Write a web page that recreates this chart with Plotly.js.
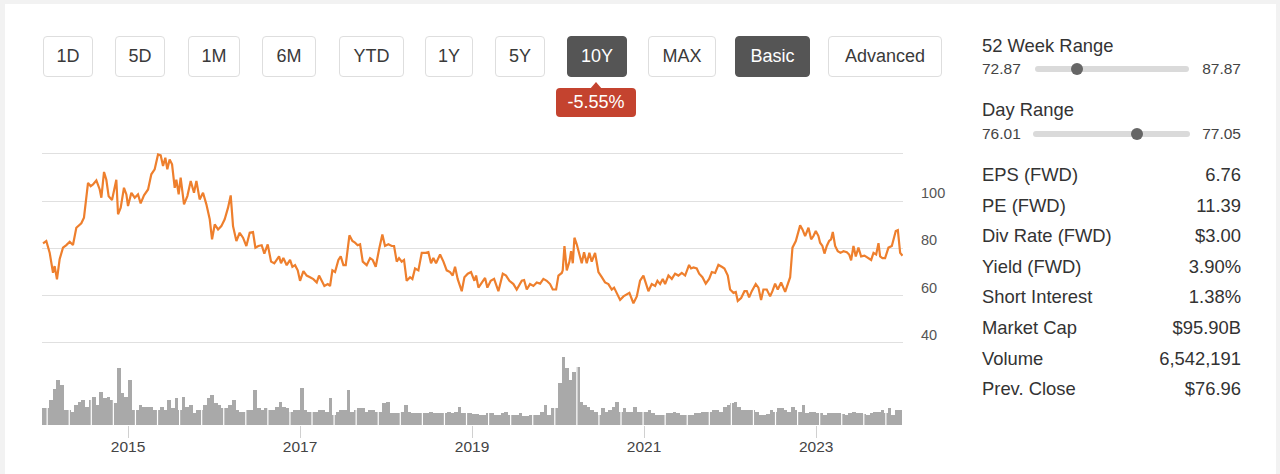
<!DOCTYPE html>
<html>
<head>
<meta charset="utf-8">
<script src="https://cdn.plot.ly/plotly-3.0.1.min.js"></script>
<style>
  html, body { margin:0; padding:0; }
  body { width:1280px; height:474px; background:#f2f2f2; position:relative; overflow:hidden;
         font-family:"Liberation Sans", Arial, sans-serif; color:#333; }
  #card { position:absolute; left:5px; top:4px; width:1271px; height:480px; background:#fff; }
  .btn { position:absolute; top:36px; height:39px; line-height:39px; border:1px solid #dedede; border-radius:4px;
         text-align:center; font-size:18px; color:#3a3a3a; background:#fff; box-sizing:content-box; }
  .btn.dark { background:#555; border-color:#555; color:#fff; }
  #badge { position:absolute; left:556px; top:88px; width:80px; height:29px; line-height:29px; background:#c4432f;
           color:#fff; font-size:18px; text-align:center; border-radius:4px; }
  #badgeTip { position:absolute; left:590px; top:82px; width:0; height:0; border-left:6px solid transparent;
              border-right:6px solid transparent; border-bottom:7px solid #c4432f; }
  .lbl { position:absolute; left:982px; height:24px; line-height:24px; font-size:18.4px; color:#333; white-space:nowrap; }
  .val { position:absolute; right:39px; height:24px; line-height:24px; font-size:18.4px; color:#333; text-align:right; white-space:nowrap; }
  .small { position:absolute; height:20px; line-height:20px; font-size:15.5px; color:#444; white-space:nowrap; }
  .track { position:absolute; height:6px; background:#dadada; border-radius:3px; }
  .knob { position:absolute; width:12px; height:12px; border-radius:6px; background:#666; }
  #chart { position:absolute; left:0; top:130px; width:980px; height:344px; }
</style>
</head>
<body>
<div id="card"></div>
<div id="chart"></div>
<div id="ui"></div>
<script>
// ---------------- DATA ----------------
const rangeButtons = ["1D","5D","1M","6M","YTD","1Y","5Y","10Y","MAX"];
const modeButtons = ["Basic","Advanced"];
const changeText = "-5.55%";

const week52 = { low: "72.87", high: "87.87", pos: 0.27 };
const dayRange = { low: "76.01", high: "77.05", pos: 0.66 };

const statLabels = ["EPS (FWD)","PE (FWD)","Div Rate (FWD)","Yield (FWD)","Short Interest","Market Cap","Volume","Prev. Close"];
const statValues = ["6.76","11.39","$3.00","3.90%","1.38%","$95.90B","6,542,191","$76.96"];

const priceTickVals = [40, 60, 80, 100, 120];
const priceTickText = ["40", "60", "80", "100", ""];
const yearTicks = [2015, 2017, 2019, 2021, 2023];

// Price (decimal year, price)
const tA = [2014.012,2014.050,2014.089,2014.128,2014.147,2014.174,2014.205,2014.244,2014.283,2014.322,2014.360,2014.399,2014.457,2014.488,2014.535,2014.566,2014.593,2014.632,2014.671,2014.690,2014.721,2014.748,2014.775,2014.814,2014.864,2014.884,2014.915,2014.953,2014.981,2015.000,2015.039,2015.078,2015.116,2015.147,2015.186,2015.233,2015.271,2015.310,2015.349,2015.380,2015.407,2015.434,2015.457,2015.484,2015.512,2015.543,2015.562,2015.589,2015.612,2015.651,2015.690,2015.729,2015.767,2015.795,2015.833,2015.872,2015.911,2015.950,2015.977,2016.008,2016.047,2016.085,2016.124,2016.163,2016.194,2016.221,2016.260,2016.298,2016.337,2016.376,2016.415,2016.453,2016.481];
const vA = [82.1,83.1,78.2,69.7,72.5,66.9,75.4,80.3,81.4,82.8,81.4,88.7,90.6,93.0,107.7,106.3,107.0,108.7,104.9,101.4,112.3,109.0,102.0,100.4,109.0,94.4,97.2,105.6,102.8,97.9,103.5,101.4,102.8,99.0,102.4,104.9,111.3,113.4,119.7,119.3,114.8,118.3,113.4,117.6,115.5,105.6,109.0,102.8,109.9,98.6,102.1,108.5,103.5,108.5,100.7,103.5,98.6,92.3,83.8,90.1,88.0,89.4,92.3,97.2,102.4,89.4,83.1,86.6,84.5,81.0,86.6,86.9,80.3];

const tB = [2016.515,2016.554,2016.585,2016.624,2016.663,2016.701,2016.729,2016.756,2016.779,2016.806,2016.845,2016.884,2016.911,2016.942,2016.973,2017.000,2017.039,2017.077,2017.116,2017.155,2017.194,2017.221,2017.252,2017.283,2017.322,2017.349,2017.376,2017.407,2017.446,2017.473,2017.504,2017.531,2017.574,2017.609,2017.639,2017.670,2017.698,2017.729,2017.775,2017.814,2017.845,2017.880,2017.919,2017.957,2017.988,2018.027,2018.066,2018.093,2018.124,2018.151,2018.182,2018.209,2018.240,2018.279,2018.306,2018.337,2018.376,2018.415,2018.461,2018.492,2018.523,2018.550,2018.581,2018.628,2018.667,2018.705,2018.744,2018.775,2018.802,2018.833,2018.880,2018.911,2018.950,2018.988,2019.027];
const vB = [81.0,81.3,77.8,81.7,74.4,73.7,75.1,76.6,73.7,75.9,72.9,75.1,72.2,72.9,70.7,66.3,70.4,68.5,67.8,67.0,65.6,68.5,66.3,64.1,64.9,64.1,70.7,70.0,75.1,76.6,72.9,72.9,85.5,83.1,82.4,81.3,81.7,74.4,72.9,75.9,75.1,72.2,79.6,85.9,81.0,81.7,81.0,81.0,74.4,75.9,74.4,75.1,66.3,67.8,67.0,71.5,70.7,78.1,78.1,78.4,73.7,75.9,73.7,77.4,74.4,70.7,70.0,68.5,72.2,67.0,61.9,67.8,69.3,70.0,66.3];

const tC = [2019.047,2019.074,2019.112,2019.151,2019.178,2019.217,2019.256,2019.306,2019.357,2019.395,2019.434,2019.481,2019.519,2019.578,2019.605,2019.636,2019.674,2019.713,2019.752,2019.791,2019.829,2019.868,2019.907,2019.938,2019.977,2020.004,2020.043,2020.054,2020.074,2020.101,2020.132,2020.151,2020.171,2020.190,2020.217,2020.256,2020.275,2020.302,2020.333,2020.364,2020.391,2020.430,2020.469,2020.508,2020.546,2020.585,2020.624,2020.651,2020.682,2020.721,2020.760,2020.798,2020.829,2020.876,2020.915,2020.953,2020.992,2021.050,2021.089,2021.128,2021.155,2021.186,2021.217,2021.244,2021.283,2021.322,2021.360,2021.399,2021.438,2021.477,2021.523];
const vC = [68.5,63.4,65.6,67.5,63.4,66.3,67.1,61.9,69.3,68.5,66.3,64.9,62.6,66.3,66.6,62.6,64.9,64.1,65.6,65.1,67.1,66.3,64.9,62.6,62.6,68.5,69.6,70.7,81.0,70.7,74.4,78.8,73.7,84.5,81.7,76.6,73.7,78.4,73.7,78.1,74.4,78.1,70.0,67.8,65.6,64.9,62.6,63.4,61.2,58.2,59.7,60.4,61.2,56.8,59.7,66.3,68.5,61.9,64.9,64.1,66.3,64.9,67.1,64.9,68.5,67.1,69.3,68.5,69.6,68.5,73.0];

const tD = [2021.546,2021.574,2021.612,2021.640,2021.678,2021.717,2021.756,2021.787,2021.826,2021.864,2021.903,2021.934,2021.973,2022.000,2022.039,2022.066,2022.089,2022.128,2022.167,2022.194,2022.221,2022.252,2022.298,2022.329,2022.360,2022.387,2022.426,2022.465,2022.492,2022.523,2022.554,2022.593,2022.640,2022.670,2022.698,2022.725,2022.764,2022.814,2022.841,2022.872,2022.911,2022.942,2022.969,2022.996,2023.027,2023.046,2023.073,2023.097,2023.124,2023.151,2023.174,2023.194,2023.221,2023.252,2023.283,2023.318,2023.357,2023.384,2023.407,2023.434,2023.461,2023.492,2023.523,2023.562,2023.601,2023.640,2023.667,2023.698,2023.725,2023.744,2023.771,2023.802,2023.841,2023.880,2023.926,2023.950,2023.977,2024.004];
const vD = [71.5,71.9,71.5,69.3,67.8,65.1,67.1,70.0,69.6,73.0,72.2,71.5,68.5,62.6,61.2,61.6,57.8,59.0,61.9,61.9,59.3,61.9,64.9,63.4,58.2,62.6,62.6,59.7,61.9,65.1,62.6,65.6,61.6,64.9,67.8,80.3,83.1,89.7,88.0,85.2,88.7,83.8,85.2,87.3,85.2,82.4,81.0,77.8,81.0,83.1,83.8,86.9,81.0,78.8,78.1,78.8,78.4,77.4,74.9,81.0,76.6,80.3,76.6,76.9,75.9,75.1,78.1,77.4,82.2,76.6,75.9,75.9,80.3,81.0,87.3,87.7,78.1,76.9];

// Volume (millions), semi-monthly bins per year
const volYears = [2014,2015,2016,2017,2018,2019,2020,2021,2022,2023];
const vol2014 = [8.5,8.5,12.5,18,22.5,20,7.5,7.5,6.5,10,11.5,12.5,9,12.5,14,10,16.5,13.5,14,12.5,11,28.5,16,14];
const vol2015 = [22.5,7.5,7.5,10,9,9,9,7.5,7.5,9,7.5,12.5,8.5,13.5,7.5,14,9,10,6,7.5,7.5,10,13.5,15];
const vol2016 = [11,10,8.5,8.5,10,12.5,7.5,6.5,6.5,7.5,7.5,17.5,8.5,7.5,8.5,7.5,7.5,9,11.5,9,8.5,6.5,7.5,7.5];
const vol2017 = [18.5,7.5,6.5,6.5,6.5,7.5,7.5,6.5,13.5,5,6.5,7.5,7.5,17.5,6.5,7.5,8.5,8.5,6.5,7.5,7.5,6.5,6.5,11];
const vol2018 = [11.5,6,6,6,6.5,10,6.5,6,6,6,6,6,6.5,6,6,6,6,6.5,6,6.5,9,6,6,6];
const vol2019 = [5.5,5.5,5,5,6,6,5,5,6,6.5,5,5,5,6,4.5,4.5,5,5,5,6.5,10,5,8.5,8.5];
const vol2020 = [21,34,28.5,22.5,26.5,29,11.5,10,9,7.5,6.5,5,8.5,6.5,7.5,9,11.5,6.5,8.5,6.5,6.5,9,6.5,6.5];
const vol2021 = [6.5,7.5,6,5,5,5,6,6,6.5,6,5,5,5,5,6,6,6.5,6.5,6.5,7.5,7.5,6.5,9,10];
const vol2022 = [11,11.5,9,7.5,7.5,7.5,7.5,6.5,5,5,5.5,7.5,6.5,8.5,8.5,7.5,6.5,9,7.5,6.5,10,6,6.5,6.5];
const vol2023 = [6,6,5,6,6,6,6,5.5,5,6,6.5,6,6,5.5,5,6,6.5,6.5,7.5,6,8.5,5,7.5,7.5];

// ---------------- UI ----------------
const FONT = '"Liberation Sans", Arial, sans-serif';
const ui = document.getElementById('ui');
function add(html){ ui.insertAdjacentHTML('beforeend', html); }

const btnGeom = [[43,48],[115,48],[188,50],[262,52],[339,63],[425,46],[495,48],[567,58],[648,66]];
rangeButtons.forEach((b,i)=>{
  const [l,w] = btnGeom[i];
  add(`<div class="btn${b==='10Y'?' dark':''}" style="left:${l}px;width:${w}px">${b}</div>`);
});
const modeGeom = [[735,73],[828,112]];
modeButtons.forEach((b,i)=>{
  const [l,w] = modeGeom[i];
  add(`<div class="btn${i===0?' dark':''}" style="left:${l}px;width:${w}px">${b}</div>`);
});
add(`<div id="badgeTip"></div><div id="badge">${changeText}</div>`);

add(`<div class="lbl" style="top:34px">52 Week Range</div>`);
add(`<div class="small" style="left:982px;top:59px">${week52.low}</div>`);
add(`<div class="small" style="right:39px;top:59px">${week52.high}</div>`);
add(`<div class="track" style="left:1035px;top:66px;width:154px"></div>`);
add(`<div class="knob" style="left:${1035+154*week52.pos-6}px;top:63px"></div>`);

add(`<div class="lbl" style="top:98px">Day Range</div>`);
add(`<div class="small" style="left:982px;top:124px">${dayRange.low}</div>`);
add(`<div class="small" style="right:39px;top:124px">${dayRange.high}</div>`);
add(`<div class="track" style="left:1033px;top:131px;width:157px"></div>`);
add(`<div class="knob" style="left:${1033+157*dayRange.pos-6}px;top:128px"></div>`);

statLabels.forEach((s,i)=>{
  const c = 175 + i*30.6;
  add(`<div class="lbl" style="top:${c-12}px">${s}</div>`);
  add(`<div class="val" style="top:${c-12}px">${statValues[i]}</div>`);
});

// ---------------- CHART ----------------
const priceT = [].concat(tA, tB, tC, tD);
const priceV = [].concat(vA, vB, vC, vD);

const volArrays = [vol2014,vol2015,vol2016,vol2017,vol2018,vol2019,vol2020,vol2021,vol2022,vol2023];
const volX = [], volY = [];
volArrays.forEach((arr, yi)=>{
  arr.forEach((v,k)=>{ volX.push(volYears[yi] + (k+0.5)/arr.length); volY.push(v); });
});

const xRange = [2014.0, 2024.01];

// thin white separators seen in the volume strip
const sepFirst = 2014.06, sepStep = 0.2566, sepCount = 39;
const shapes = [];
for (let k=0;k<sepCount;k++){
  const x = sepFirst + k*sepStep;
  shapes.push({type:'line', xref:'x2', yref:'y2', x0:x, x1:x, y0:0, y1:35, line:{color:'#ffffff', width:1.2}, layer:'above'});
}

const traces = [
  { x: priceT, y: priceV, type:'scatter', mode:'lines', xaxis:'x', yaxis:'y',
    line:{color:'#ee7f2d', width:2.2}, hoverinfo:'skip' },
  { x: volX, y: volY, type:'bar', xaxis:'x2', yaxis:'y2', width:1/24,
    marker:{color:'#a9a9a9', line:{width:0}}, hoverinfo:'skip' }
];

const layout = {
  width:980, height:344,
  margin:{l:42, r:77, t:19, b:49},
  paper_bgcolor:'rgba(0,0,0,0)', plot_bgcolor:'rgba(0,0,0,0)',
  showlegend:false, bargap:0,
  font:{family:FONT, color:'#444'},
  xaxis:{ domain:[0,1], range:xRange, anchor:'y', showticklabels:false, showgrid:false, zeroline:false, showline:false, ticks:'' },
  yaxis:{ domain:[0.280,1], range:[38,122], side:'right', anchor:'x',
          tickvals:priceTickVals, ticktext:priceTickText, ticks:'', showline:false, zeroline:false,
          gridcolor:'#e0e0e0', gridwidth:1, ticklabelstandoff:17, ticklabelshift:-8,
          tickfont:{size:14.5, color:'#555', family:FONT} },
  xaxis2:{ domain:[0,1], range:xRange, anchor:'y2', matches:'x',
           tickvals:yearTicks, ticktext:yearTicks.map(String), ticks:'outside', ticklen:12, tickwidth:1, tickcolor:'#d0d0d0',
           ticklabelstandoff:-5,
           showgrid:false, zeroline:false, showline:false, tickfont:{size:15.5, color:'#444', family:FONT} },
  yaxis2:{ domain:[0,0.2536], range:[0,35], anchor:'x2', visible:false, showgrid:false, zeroline:false },
  shapes: shapes
};

Plotly.newPlot('chart', traces, layout, {displayModeBar:false, staticPlot:true});
</script>
</body>
</html>
